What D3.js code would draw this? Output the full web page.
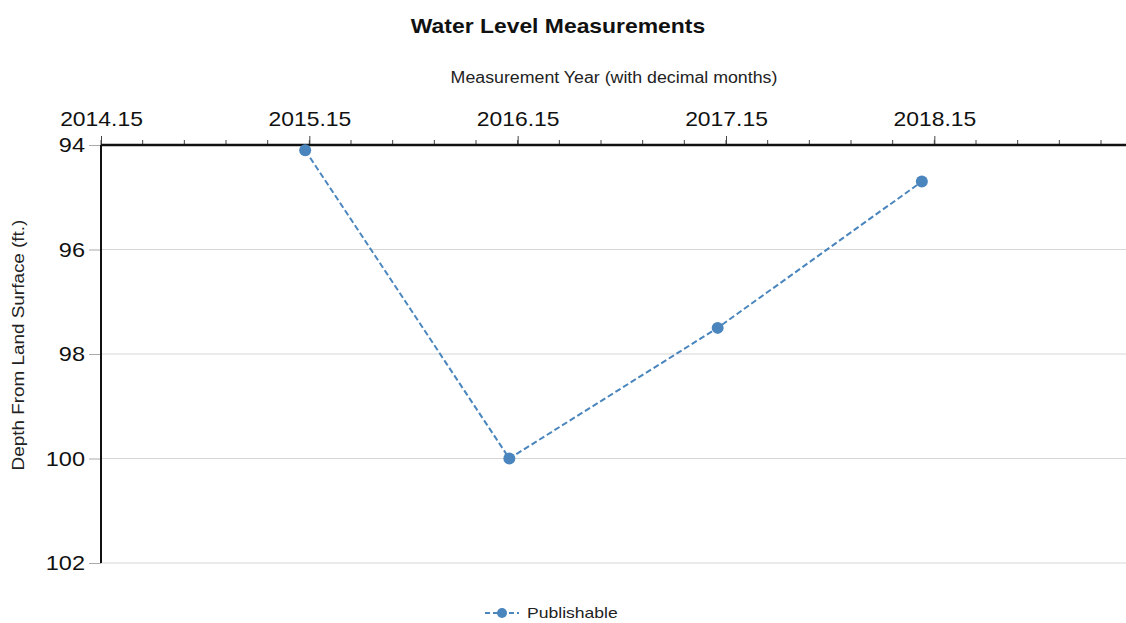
<!DOCTYPE html>
<html>
<head>
<meta charset="utf-8">
<script src="https://cdn.jsdelivr.net/npm/d3@7"></script>
<style>
  body { margin: 0; background: #fff; }
  svg { font-family: "Liberation Sans", Arial, sans-serif; }
</style>
</head>
<body>
<div class="main"></div>
<script>
// data
const years = [2015.13, 2016.11, 2017.11, 2018.09];
const depths = [94.1, 100.0, 97.5, 94.7];
const xTicks = [2014.15, 2015.15, 2016.15, 2017.15, 2018.15];
const yTicks = [94, 96, 98, 100, 102];
const seriesName = "Publishable";

const width = 1126, height = 623;
const margin = { top: 145, right: 0, bottom: 60, left: 101 };
const color = "#4a86bd";

// the reference text looks a bit wider than the font, stretch it
function stretch(sel, k) {
    sel.each(function() {
        let w = this.getComputedTextLength();
        d3.select(this).attr("textLength", w * k).attr("lengthAdjust", "spacingAndGlyphs");
    });
}

const svg = d3.select(".main").append("svg")
    .attr("width", width)
    .attr("height", height);

let x = d3.scaleLinear().domain([2014.15, 2019.07]).range([margin.left, width]);
let y = d3.scaleLinear().domain([94, 102]).range([margin.top, 563]);

// title
svg.append("text")
    .attr("x", 558).attr("y", 33)
    .attr("text-anchor", "middle")
    .attr("font-size", "21px").attr("font-weight", "bold")
    .attr("fill", "#111")
    .text("Water Level Measurements")
    .call(stretch, 1.09);

svg.append("text")
    .attr("x", 614).attr("y", 83)
    .attr("text-anchor", "middle")
    .attr("font-size", "16px").attr("fill", "#222")
    .text("Measurement Year (with decimal months)")
    .call(stretch, 1.11);

// horizontal grid
svg.append("g").selectAll("line").data(yTicks.slice(1)).enter().append("line")
    .attr("x1", margin.left).attr("x2", width)
    .attr("y1", d => y(d)).attr("y2", d => y(d))
    .attr("stroke", "#d6d6d6").attr("stroke-width", 1);

// y axis
let yAxis = d3.axisLeft(y).tickValues(yTicks).tickSize(12).tickPadding(4).tickFormat(d3.format("d"));
let gy = svg.append("g")
    .attr("transform", "translate(" + margin.left + ",0)")
    .call(yAxis);
gy.select(".domain").remove();
gy.selectAll(".tick line").attr("stroke", "#aaa");
gy.selectAll(".tick text").attr("font-size", "21px").attr("fill", "#111")
    .attr("font-family", "Liberation Sans, Arial, sans-serif")
    .call(stretch, 1.12);
svg.append("line")
    .attr("x1", margin.left).attr("x2", margin.left)
    .attr("y1", y(94)).attr("y2", y(102))
    .attr("stroke", "#111").attr("stroke-width", 2);

svg.append("text")
    .attr("transform", "translate(24,345) rotate(-90)")
    .attr("text-anchor", "middle")
    .attr("font-size", "16px").attr("fill", "#222")
    .text("Depth From Land Surface (ft.)")
    .call(stretch, 1.18);

// top axis, minor ticks every 0.2 year
let minor = d3.range(0, 25).map(i => 2014.15 + i * 0.2).filter(v => v <= 2019.07);
svg.append("g").selectAll("line").data(minor).enter().append("line")
    .attr("x1", d => x(d)).attr("x2", d => x(d))
    .attr("y1", margin.top).attr("y2", margin.top - 5)
    .attr("stroke", "#444").attr("stroke-width", 1);

let xAxis = d3.axisTop(x).tickValues(xTicks).tickSize(9).tickPadding(10).tickFormat(d3.format(".2f"));
let gx = svg.append("g")
    .attr("transform", "translate(0," + margin.top + ")")
    .call(xAxis);
gx.select(".domain").remove();
gx.selectAll(".tick line").attr("stroke", "#444");
gx.selectAll(".tick text").attr("font-size", "21px").attr("fill", "#111")
    .attr("font-family", "Liberation Sans, Arial, sans-serif")
    .call(stretch, 1.09);
svg.append("line")
    .attr("x1", margin.left).attr("x2", width)
    .attr("y1", margin.top).attr("y2", margin.top)
    .attr("stroke", "#111").attr("stroke-width", 2.5);

// series
const points = years.map((v, i) => ({ year: v, depth: depths[i] }));
let line = d3.line().x(d => x(d.year)).y(d => y(d.depth));
svg.append("path")
    .datum(points)
    .attr("d", line)
    .attr("fill", "none")
    .attr("stroke", color)
    .attr("stroke-width", 2)
    .attr("stroke-dasharray", "6,3");
svg.append("g").selectAll("circle").data(points).enter().append("circle")
    .attr("cx", d => x(d.year)).attr("cy", d => y(d.depth))
    .attr("r", 6).attr("fill", color);

// legend
let lg = svg.append("g").attr("transform", "translate(485,613)");
lg.append("line")
    .attr("x1", 0).attr("x2", 34).attr("y1", 0).attr("y2", 0)
    .attr("stroke", color).attr("stroke-width", 2).attr("stroke-dasharray", "5,3");
lg.append("circle").attr("cx", 17).attr("cy", 0).attr("r", 5).attr("fill", color);
lg.append("text")
    .attr("x", 42).attr("y", 5)
    .attr("font-size", "15px").attr("fill", "#222")
    .text(seriesName)
    .call(stretch, 1.17);
</script>
</body>
</html>
